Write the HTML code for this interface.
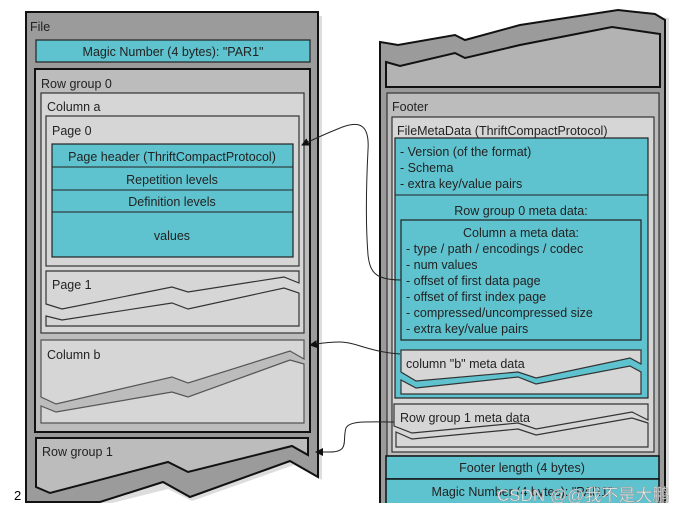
<!DOCTYPE html>
<html><head><meta charset="utf-8"><style>
html,body{margin:0;padding:0;background:#fff;width:692px;height:514px;overflow:hidden}
svg text{font-family:"Liberation Sans","Noto Sans CJK SC",sans-serif;font-size:12.5px;fill:#222}
</style></head><body>
<svg width="692" height="514" viewBox="0 0 692 514" xmlns="http://www.w3.org/2000/svg">
<defs><marker id="ah" markerWidth="8" markerHeight="8" refX="7" refY="4" orient="auto" markerUnits="userSpaceOnUse"><path d="M0,0 L8,4 L0,8 z" fill="#111"/></marker></defs>
<!-- LEFT FILE -->
<polygon points="322,16 322,480 294,465 192,501 168,489 100,506 30,506 30,16" fill="#ddd"/>
<polygon points="26,12 318,12 318,477 290,461 190,497 163,482 100,502 26,502" fill="#9b9b9b" stroke="#111" stroke-width="2"/>
<text x="30" y="31">File</text>
<rect x="36" y="40" width="274" height="22" fill="#5fc3cf" stroke="#222" stroke-width="1.2"/>
<text x="173" y="56" text-anchor="middle">Magic Number (4 bytes): "PAR1"</text>
<rect x="35" y="69" width="275" height="363" fill="#bcbcbc" stroke="#111" stroke-width="2"/>
<text x="41" y="88">Row group 0</text>
<rect x="41" y="93" width="263" height="240" fill="#d6d6d6" stroke="#333" stroke-width="1.2"/>
<text x="47" y="111">Column a</text>
<rect x="46" y="116" width="253" height="150" fill="#d6d6d6" stroke="#333" stroke-width="1.2"/>
<text x="52" y="135">Page 0</text>
<rect x="52" y="144" width="241" height="113" fill="#5fc3cf" stroke="#222" stroke-width="1.2"/>
<line x1="52" y1="167" x2="293" y2="167" stroke="#222"/>
<line x1="52" y1="190" x2="293" y2="190" stroke="#222"/>
<line x1="52" y1="212" x2="293" y2="212" stroke="#222"/>
<text x="172" y="161" text-anchor="middle">Page header (ThriftCompactProtocol)</text>
<text x="172" y="184" text-anchor="middle">Repetition levels</text>
<text x="172" y="206" text-anchor="middle">Definition levels</text>
<text x="172" y="240" text-anchor="middle">values</text>
<!-- Page 1 -->
<polygon points="46,271 299,271 299,283 284,277 188,292 172,287 62,309 46,304" fill="#d6d6d6" stroke="#333" stroke-width="1.2"/>
<polygon points="46,316 62,320 172,303 188,309 284,288 299,293 299,326 46,326" fill="#d6d6d6" stroke="#333" stroke-width="1.2"/>
<text x="52" y="289">Page 1</text>
<!-- Column b -->
<polygon points="41,340 304,340 304,359 290,351 188,383 172,377 56,404 41,397" fill="#d6d6d6" stroke="#555" stroke-width="1.2"/>
<polygon points="41,406 56,412 172,392 188,397 290,360 304,364 304,423 41,423" fill="#d6d6d6" stroke="#555" stroke-width="1.2"/>
<text x="47" y="359">Column b</text>
<!-- Row group 1 -->
<polygon points="36,438 308,438 308,455 292,446 188,472 168,462 50,493 36,487" fill="#bcbcbc" stroke="#111" stroke-width="2"/>
<text x="42" y="456">Row group 1</text>
<text x="14" y="500" style="font-size:13px;fill:#000">2</text>
<!-- RIGHT -->
<polygon points="384,46 402,49 458,39 468,44 523,29 622,14 669,18 669,514 384,514" fill="#ddd"/>
<polygon points="380,42 398,45 455,35 465,40 520,25 618,10 655,14 665,20 665,514 380,514" fill="#9b9b9b" stroke="#111" stroke-width="2"/>
<polygon points="386,62 400,66 455,53 465,58 520,45 612,27 660,34 660,87 386,87" fill="#b3b3b3" stroke="#111" stroke-width="2"/>
<rect x="387" y="93" width="272" height="363" fill="#bcbcbc" stroke="#333" stroke-width="1.2"/>
<text x="392" y="111">Footer</text>
<rect x="392" y="117" width="262" height="335" fill="#d6d6d6" stroke="#333" stroke-width="1.2"/>
<text x="397" y="135">FileMetaData (ThriftCompactProtocol)</text>
<rect x="395" y="138" width="253" height="260" fill="#5fc3cf" stroke="#222" stroke-width="1.2"/>
<line x1="395" y1="195" x2="648" y2="195" stroke="#222"/>
<text x="400" y="156">- Version (of the format)</text>
<text x="400" y="172">- Schema</text>
<text x="400" y="188">- extra key/value pairs</text>
<text x="521" y="215" text-anchor="middle">Row group 0 meta data:</text>
<rect x="401" y="220" width="240" height="120" fill="#5fc3cf" stroke="#222" stroke-width="1.2"/>
<text x="521" y="237" text-anchor="middle">Column a meta data:</text>
<text x="406" y="253">- type / path / encodings / codec</text>
<text x="406" y="269">- num values</text>
<text x="406" y="285">- offset of first data page</text>
<text x="406" y="301">- offset of first index page</text>
<text x="406" y="317">- compressed/uncompressed size</text>
<text x="406" y="333">- extra key/value pairs</text>
<polygon points="401,350 641,350 641,364 630,358 536,378 518,372 416,381 401,372" fill="#d6d6d6" stroke="#333" stroke-width="1.2"/>
<polygon points="401,380 416,388 518,377 536,384 630,366 641,372 641,394 401,394" fill="#d6d6d6" stroke="#333" stroke-width="1.2"/>
<text x="406" y="368">column "b" meta data</text>
<polygon points="394,404 648,404 648,420 632,412 536,429 518,423 412,433 394,426" fill="#d6d6d6" stroke="#333" stroke-width="1.2"/>
<polygon points="396,432 412,439 518,429 536,435 632,418 648,423 648,447 396,447" fill="#d6d6d6" stroke="#333" stroke-width="1.2"/>
<text x="400" y="422">Row group 1 meta data</text>
<rect x="386" y="456" width="273" height="23" fill="#5fc3cf" stroke="#111" stroke-width="1.5"/>
<rect x="386" y="479" width="273" height="30" fill="#5fc3cf" stroke="#111" stroke-width="1.5"/>
<text x="522" y="472" text-anchor="middle">Footer length (4 bytes)</text>
<text x="522" y="496" text-anchor="middle">Magic Number (4 bytes): "PAR1"</text>
<text x="497" y="501" style="font-size:17px;fill:#fff;stroke:#999;stroke-width:0.6;opacity:0.9">CSDN @@我不是大鹏</text>
<rect x="0" y="503" width="692" height="11" fill="#fff"/>
<!-- connectors -->
<path d="M401,280 C375,280 370,272 368,255 C366,230 366,190 368,150 C370,120 355,122 340,128 C325,134 312,140 302,145" fill="none" stroke="#222" stroke-width="1" marker-end="url(#ah)"/>
<path d="M400,354 C370,352 355,342 340,342 C325,342 318,344 310,345" fill="none" stroke="#222" stroke-width="1" marker-end="url(#ah)"/>
<path d="M394,422 C370,422 350,420 346,428 C342,440 350,452 330,452 C325,452 320,452 316,452" fill="none" stroke="#222" stroke-width="1" marker-end="url(#ah)"/>
</svg>
</body></html>
